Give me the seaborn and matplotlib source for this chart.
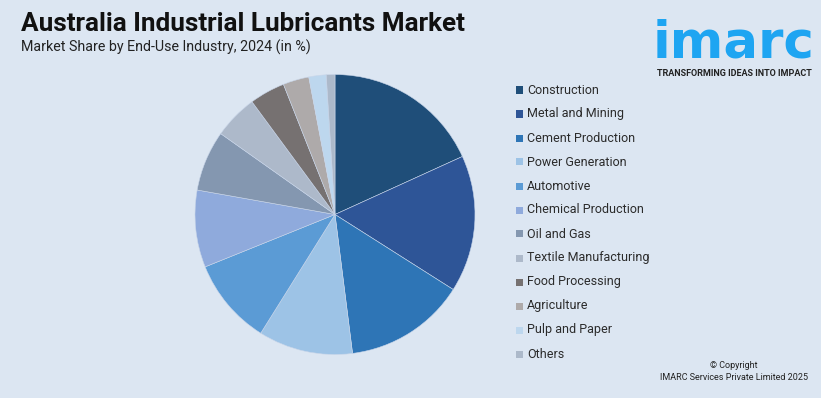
import matplotlib
matplotlib.use("Agg")
import matplotlib.pyplot as plt
import seaborn as sns
from matplotlib.patches import Rectangle

categories = ["Construction", "Metal and Mining", "Cement Production", "Power Generation",
              "Automotive", "Chemical Production", "Oil and Gas", "Textile Manufacturing",
              "Food Processing", "Agriculture", "Pulp and Paper", "Others"]
shares = [18.2, 15.8, 14.0, 10.9, 10.0, 8.9, 7.0, 5.1, 4.1, 3.0, 2.0, 1.0]
colors = ["#1f4e79", "#2e5597", "#2e75b6", "#9dc3e6", "#5b9bd5", "#8faadc",
          "#8497b0", "#adb9ca", "#767171", "#aeaaaa", "#bdd7ee", "#acb9ca"]

BG = "#dce6f2"
sns.set_theme(style="white")
plt.rcParams['font.family'] = ['Roboto', 'DejaVu Sans']

W, H = 821, 398
fig = plt.figure(figsize=(W / 100, H / 100), dpi=100, facecolor=BG)

def fx(x):
    return x / W

def fy(y):
    return 1 - y / H

cx, cy, r = 335, 214.5, 140
ax = fig.add_axes([fx(cx - r), fy(cy + r), 2 * r / W, 2 * r / H])
ax.set_facecolor(BG)
ax.pie(shares, colors=colors, startangle=90, counterclock=False,
       wedgeprops=dict(linewidth=0.4, edgecolor="#c9d6ea"))
ax.set_xlim(-1.0, 1.0)
ax.set_ylim(-1.0, 1.0)
ax.set_aspect("equal")
ax.axis("off")

# Title
fig.text(fx(21), fy(24), "Australia Industrial Lubricants Market", fontsize=18.8,
         fontweight="bold", color="#111111", va="center", ha="left")
fig.text(fx(21), fy(47), "Market Share by End-Use Industry, 2024 (in %)", fontsize=10.3,
         color="#222222", va="center", ha="left")

# Legend
for i, (lab, col) in enumerate(zip(categories, colors)):
    y = 90 + 24 * i
    fig.patches.append(Rectangle((fx(516), fy(y + 3.5)), 7 / W, 7 / H,
                                 transform=fig.transFigure, facecolor=col,
                                 edgecolor="none"))
    fig.text(fx(527), fy(y), lab, fontsize=9, color="#2b2b2b", va="center", ha="left")

# Logo
fig.text(fx(734), fy(58), "imarc", fontsize=37, fontweight="bold", color="#1ea5f2",
         va="baseline", ha="center", family=["DejaVu Sans"])
fig.text(fx(734), fy(73), "TRANSFORMING IDEAS INTO IMPACT", fontsize=6.5,
         fontweight="bold", color="#222222", va="center", ha="center")

# Copyright
fig.text(fx(734), fy(365), "© Copyright", fontsize=6.5, color="#222222",
         va="center", ha="center")
fig.text(fx(734), fy(377), "IMARC Services Private Limited 2025", fontsize=6.5,
         color="#222222", va="center", ha="center")

fig.savefig("out.png", dpi=100, facecolor=BG)
